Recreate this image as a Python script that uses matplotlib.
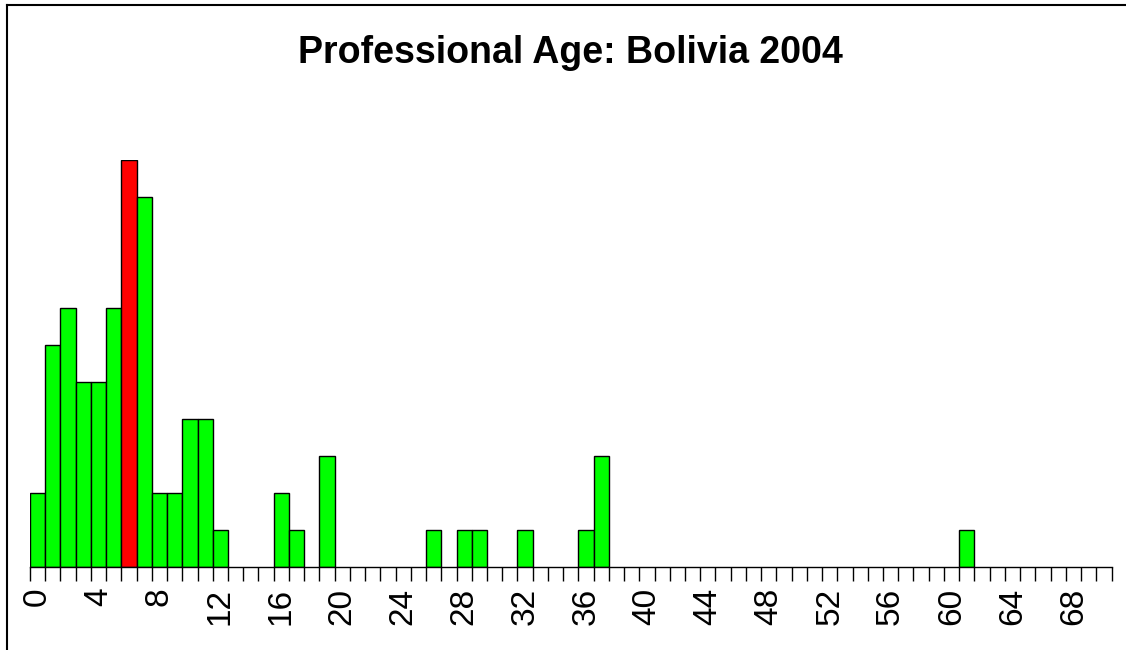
import numpy as np
import matplotlib
matplotlib.use('Agg')
import matplotlib.pyplot as plt
from matplotlib.lines import Line2D

#####
# Data
#####

title = 'Professional Age: Bolivia 2004'
n_bins = 71                     # ages 0..70
ages = [0, 1, 2, 3, 4, 5, 6, 7, 8, 9, 10, 11, 12, 16, 17, 19, 26, 28, 29, 32, 36, 37, 61]
counts = [2, 6, 7, 5, 5, 7, 11, 10, 2, 2, 4, 4, 1, 2, 1, 3, 1, 1, 1, 1, 1, 3, 1]
highlight_age = 6               # the red bar
label_ages = list(range(0, 69, 4))

#####
# Plot
#####

plt.rcParams['font.family'] = ['Liberation Sans', 'DejaVu Sans']

fig = plt.figure(figsize=(11.26, 6.5), dpi=100)
ax = fig.add_axes([30 / 1126, (650 - 567) / 650, 1081.5 / 1126, 407 / 650])

colors = ['#ff0000' if a == highlight_age else '#00ff00' for a in ages]
ax.bar(ages, counts, width=1, align='edge', color=colors, edgecolor='black', linewidth=1)

ax.set_xlim(0, n_bins)
ax.set_ylim(0, 11)

# tick marks on bin edges, labels in bin centres
ax.set_xticks(np.arange(0, n_bins + 1))
ax.set_xticklabels([])
ax.tick_params(axis='x', which='major', length=10, width=1, color='black', direction='out')
ax.set_xticks([a + 0.5 for a in label_ages], minor=True)
ax.set_xticklabels([str(a) for a in label_ages], minor=True, rotation=90, fontsize=24,
                   family=['Liberation Sans Narrow', 'Liberation Sans'])
ax.tick_params(axis='x', which='minor', length=0, pad=15)

ax.set_yticks([])
for side in ['top', 'right', 'left']:
    ax.spines[side].set_visible(False)
ax.spines['bottom'].set_linewidth(1)

fig.text(570 / 1126, 1 - 53 / 650, title, ha='center', va='center',
         fontsize=27, fontweight='bold')

# frame lines on top and left of the picture
fig.add_artist(Line2D([7 / 1126, 1], [1 - 5 / 650, 1 - 5 / 650], color='black', lw=1.5))
fig.add_artist(Line2D([7 / 1126, 7 / 1126], [0, 1 - 5 / 650], color='black', lw=1.5))

plt.savefig('out.png', dpi=100)
